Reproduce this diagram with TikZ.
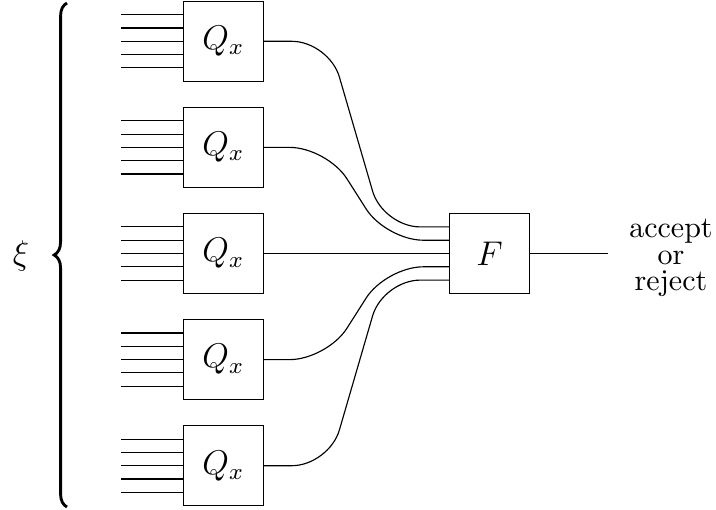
\documentclass[tikz,border=0pt]{standalone}
\usetikzlibrary{calc,decorations.pathreplacing}
\begin{document}
\begin{tikzpicture}[x=0.35pt,y=-0.35pt,
  box/.style={draw,minimum size=28pt,inner sep=0pt,line width=0.4pt},
  wire/.style={line width=0.4pt},
  curve/.style={wire,rounded corners=13pt}]
\useasboundingbox (0,0) rectangle (716,509);
\foreach \i/\y in {1/41.3,2/147.4,3/253.5,4/359.6,5/465.7}{
  \node[box] (Q\i) at (223.3,\y) {\large $Q_x$};
  \foreach \k in {-2,...,2}{
    \draw[wire] ($(Q\i.west)+(0,\k*13.3)$) -- ++(-61.7,0);
  }
}
\node[box] (F) at (489.5,253.5) {\large $F$};
\draw[curve] (Q1.east) -- (329,41.3) -- (383,226.9) -- ($(F.west)+(0,-26.6)$);
\draw[curve] (Q2.east) -- (327,147.4) -- (386,240.2) -- ($(F.west)+(0,-13.3)$);
\draw[wire] (Q3.east) -- (F.west);
\draw[curve] (Q4.east) -- (327,359.6) -- (386,266.8) -- ($(F.west)+(0,13.3)$);
\draw[curve] (Q5.east) -- (329,465.7) -- (383,280.1) -- ($(F.west)+(0,26.6)$);
\coordinate (out) at (608,253.5);
\draw[wire] (F.east) -- (out);
\node[align=center,font=\fontsize{10.5pt}{9.35pt}\selectfont] (res) at (671,258) {accept\\or\\reject};
\coordinate (brb) at (67,507);
\coordinate (brt) at (67,3);
\draw[line width=1pt,decorate,decoration={brace,amplitude=4.5pt}] (brb) -- (brt);
\node (xi) at (21,256) {\large $\xi$};
\end{tikzpicture}
\end{document}
